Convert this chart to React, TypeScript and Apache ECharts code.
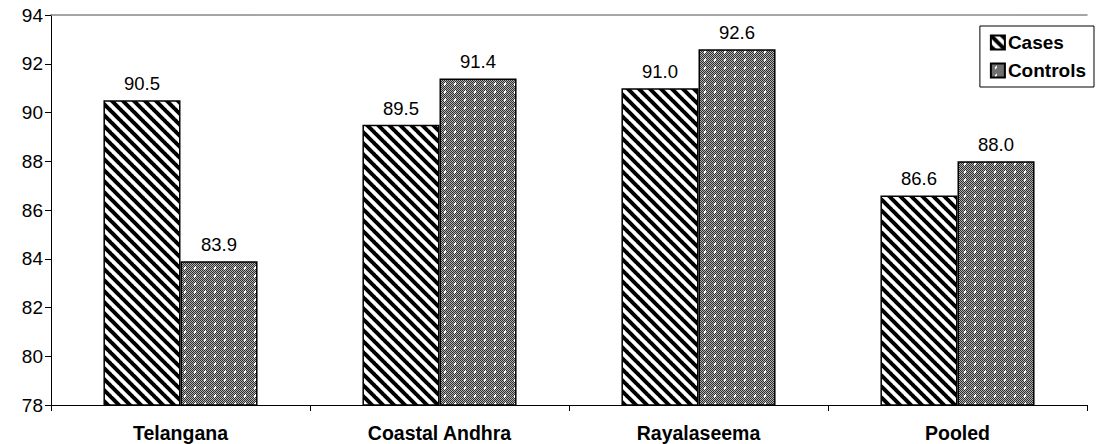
import React, { useEffect, useRef } from "react";
import * as echarts from "echarts";

const categories = ["Telangana", "Coastal Andhra", "Rayalaseema", "Pooled"];
const casesValues = [90.5, 89.5, 91.0, 86.6];
const controlsValues = [83.9, 91.4, 92.6, 88.0];
const yMin = 78;
const yMax = 94;
const yStep = 2;

const FONT = "'Liberation Sans', Arial, sans-serif";

function stripePattern(): HTMLCanvasElement {
  const c = document.createElement("canvas");
  const s = 11;
  c.width = s;
  c.height = s;
  const ctx = c.getContext("2d")!;
  ctx.fillStyle = "#ffffff";
  ctx.fillRect(0, 0, s, s);
  ctx.strokeStyle = "#000000";
  ctx.lineWidth = 4;
  for (let k = -1; k <= 1; k++) {
    ctx.beginPath();
    ctx.moveTo(k * s - 1, -1);
    ctx.lineTo(k * s + s + 1, s + 1);
    ctx.stroke();
  }
  return c;
}

function dotPattern(): HTMLCanvasElement {
  const c = document.createElement("canvas");
  const w = 10;
  const h = 8;
  c.width = w;
  c.height = h;
  const ctx = c.getContext("2d")!;
  for (let y = 0; y < h; y++) {
    for (let x = 0; x < w; x++) {
      ctx.fillStyle = (x + y) % 2 === 0 ? "#2e2e2e" : "#b0b0b0";
      ctx.fillRect(x, y, 1, 1);
    }
  }
  ctx.fillStyle = "#ffffff";
  ctx.fillRect(4, 3, 2, 2);
  ctx.fillRect(5, 2, 1, 1);
  ctx.fillRect(4, 5, 1, 1);
  return c;
}

export default function App() {
  const ref = useRef<HTMLDivElement>(null);
  useEffect(() => {
    if (!ref.current) return;
    const chart = echarts.init(ref.current, undefined, { renderer: "svg" });
    const stripes = stripePattern();
    const dots = dotPattern();
    const labelCfg = {
      show: true,
      position: "top" as const,
      distance: 7,
      color: "#000",
      fontFamily: FONT,
      fontSize: 18.5,
      formatter: (p: any) => Number(p.value).toFixed(1),
    };
    chart.setOption({
      animation: false,
      backgroundColor: "#ffffff",
      grid: { left: 51, right: 19, top: 15, bottom: 39, containLabel: false },
      legend: {
        orient: "vertical",
        right: 12,
        top: 26,
        backgroundColor: "#ffffff",
        borderColor: "#000",
        borderWidth: 1,
        padding: [7, 8, 7, 10],
        itemGap: 9,
        itemWidth: 14,
        itemHeight: 14,
        icon: "rect",
        textStyle: { fontFamily: FONT, fontSize: 19, fontWeight: "bold", color: "#000", padding: [0, 0, 0, -2] },
        data: ["Cases", "Controls"],
      },
      xAxis: [
        {
          type: "category",
          data: categories,
          axisLine: { lineStyle: { color: "#000", width: 1 } },
          axisTick: { show: true, length: 6, lineStyle: { color: "#000" }, alignWithLabel: false },
          axisLabel: {
            color: "#000",
            fontFamily: FONT,
            fontSize: 19.5,
            fontWeight: "bold",
            margin: 18,
          },
        },
        {
          type: "category",
          data: categories,
          position: "top",
          axisLine: { show: true, lineStyle: { color: "#888", width: 1.5 } },
          axisTick: { show: false },
          axisLabel: { show: false },
        },
      ],
      yAxis: {
        type: "value",
        min: yMin,
        max: yMax,
        interval: yStep,
        axisLine: { show: true, lineStyle: { color: "#000", width: 1 } },
        axisTick: { show: true, length: 6, lineStyle: { color: "#000" } },
        splitLine: { show: false },
        axisLabel: { color: "#000", fontFamily: FONT, fontSize: 19, margin: 8 },
      },
      series: [
        {
          name: "Cases",
          type: "bar",
          data: casesValues,
          barGap: "0%",
          barCategoryGap: "40.5%",
          itemStyle: {
            color: { image: stripes, repeat: "repeat" },
            borderColor: "#000",
            borderWidth: 1.5,
          },
          label: labelCfg,
        },
        {
          name: "Controls",
          type: "bar",
          data: controlsValues,
          barGap: "0%",
          barCategoryGap: "40.5%",
          itemStyle: {
            color: { image: dots, repeat: "repeat" },
            borderColor: "#000",
            borderWidth: 1.5,
          },
          label: labelCfg,
        },
      ],
    });
    return () => chart.dispose();
  }, []);
  return <div ref={ref} style={{ width: 1106, height: 444, position: "absolute", left: 0, top: 0 }} />;
}
